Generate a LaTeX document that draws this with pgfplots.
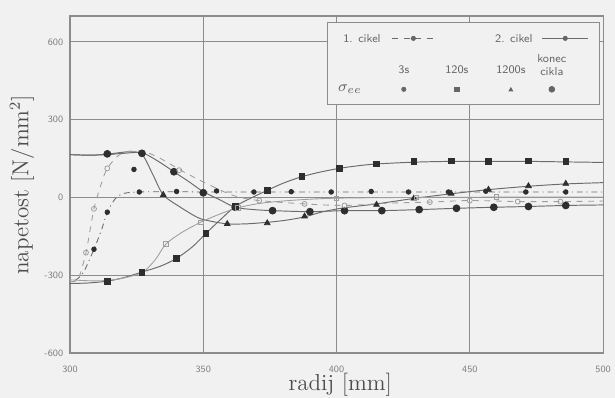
\documentclass[border=0pt]{standalone}
\usepackage{pgfplots}
\pgfplotsset{compat=1.18}
\usetikzlibrary{backgrounds}
\definecolor{bg}{gray}{0.945}
\definecolor{gridc}{gray}{0.55}
\definecolor{linec}{gray}{0.42}
\definecolor{lightc}{gray}{0.62}
\definecolor{markc}{gray}{0.18}
\begin{document}
\begin{tikzpicture}
\begin{axis}[
  scale only axis, width=277.3pt, height=175.3pt,
  xmin=300, xmax=500, ymin=-600, ymax=700,
  xtick={300,350,400,450,500}, ytick={-600,-300,0,300,600},
  grid=major, grid style={gridc, line width=0.45pt},
  axis line style={gridc, line width=0.6pt},
  tick style={draw=none},
  ticklabel style={font=\sffamily\fontsize{5}{6}\selectfont, text=gray},
  xticklabel style={yshift=-3pt},
  /pgf/number format/assume math mode=true,
  xlabel={radij [mm]}, ylabel={napetost [N/mm$^2$]},
  label style={font=\large, text=black!70},
  xlabel style={at={(axis description cs:0.507,-0.095)}, anchor=center},
  ylabel style={at={(axis description cs:-0.090,0.499)}, anchor=center},
]
% A: 120s squares
\addplot[linec, line width=0.5pt, smooth, no markers] coordinates {
(300,-332)(307,-330)(314,-323)(320,-310)(327,-288)(334,-265)(340,-235)(346,-190)(351,-139)(356,-90)(362,-35)(368,-2)(374,27)(380,55)(387,80)(394,98)(401,112)(408,122)(415,129)(429,136)(443,139)(457,139)(472,139)(486,137)(500,135)};
\addplot[only marks, mark=square*, mark size=1.5pt, markc] coordinates {
(314,-323)(327,-288)(340,-235)(351,-139)(362,-35)(374,27)(387,82)(401,112)(415,129)(429,138)(443,141)(457,138)(472,141)(486,138)};
% B: konec cikla big dots
\addplot[linec, line width=0.5pt, smooth, no markers] coordinates {
(300,165)(307,163)(314,165)(320,170)(327,172)(333,140)(339,99)(345,58)(350,22)(356,-8)(362,-38)(369,-47)(376,-51)(390,-55)(403,-51)(417,-51)(431,-47)(445,-42)(459,-38)(472,-35)(486,-31)(500,-29)};
\addplot[only marks, mark=*, mark size=1.8pt, markc] coordinates {
(314,168)(327,170)(339,99)(350,18)(362,-38)(376,-51)(390,-55)(403,-51)(417,-51)(431,-47)(445,-42)(459,-38)(472,-35)(486,-31)};
% C: 1200s triangles
\addplot[linec, line width=0.5pt, smooth, no markers] coordinates {
(300,165)(308,163)(315,168)(322,176)(327,166)(331,90)(335,10)(341,-35)(348,-78)(353,-92)(359,-102)(366,-102)(374,-96)(381,-88)(388,-75)(395,-55)(403,-40)(415,-25)(429,-4)(443,14)(457,30)(472,43)(486,52)(500,57)};
\addplot[only marks, mark=triangle*, mark size=1.7pt, markc] coordinates {
(335,10)(359,-102)(374,-99)(388,-73)(415,-28)(429,-4)(443,15)(457,30)(472,44)(486,53)};
% D: 3s small dots
\addplot[linec, line width=0.45pt, dash pattern=on 3pt off 2pt on 0.6pt off 2pt, smooth, no markers] coordinates {
(302,-320)(305,-290)(309,-200)(312,-120)(314,-57)(317,-5)(320,15)(326,21)(340,22)(350,21)(370,21)(400,21)(430,21)(460,21)(486,21)(500,21)};
\addplot[only marks, mark=*, mark size=1.2pt, markc] coordinates {
(309,-200)(314,-57)(324,108)(326,21)(340,23)(355,25)(369,21)(383,22)(398,21)(413,23)(427,21)(442,21)(456,24)(471,21)(486,21)};
% E: open circles, light dashed
\addplot[lightc, line width=0.45pt, dashed, smooth, no markers] coordinates {
(300,-322)(303,-316)(306,-213)(309,-44)(312,60)(314,112)(318,160)(322,178)(328,176)(334,150)(341,108)(348,70)(355,35)(362,5)(371,-12)(388,-25)(403,-31)(420,-22)(435,-18)(450,-12)(468,-16)(484,-16)(500,-14)};
\addplot[only marks, mark=o, mark size=1.3pt, lightc] coordinates {
(306,-213)(309,-44)(314,112)(341,105)(371,-12)(388,-25)(403,-31)(435,-18)(450,-12)(468,-16)(484,-16)};
% F: open squares, light solid
\addplot[lightc, line width=0.45pt, smooth, no markers] coordinates {
(300,-318)(310,-322)(318,-315)(327,-290)(332,-240)(336,-180)(342,-135)(349,-96)(356,-65)(363,-40)(372,-22)(385,-10)(400,-3)(430,0)(460,1)(500,1)};
\addplot[only marks, mark=square, mark size=1.2pt, lightc] coordinates {
(336,-180)(349,-96)(363,-40)(400,-3)(430,0)(460,1)};
% legend box
\node[draw=gridc, fill=bg, line width=0.5pt, anchor=north east, minimum width=141.5pt, minimum height=42.7pt, inner sep=0pt] (L) at (rel axis cs:0.994,0.982) {};
\end{axis}
\begin{scope}[font=\sffamily\fontsize{6}{7}\selectfont, text=black!60]
\node[anchor=west] at ([shift={(5pt,-8.5pt)}]L.north west) {1. cikel};
\draw[linec, dashed, line width=0.45pt] ([shift={(34pt,-8.5pt)}]L.north west) -- ++(22pt,0);
\node[inner sep=0pt] at ([shift={(45pt,-8.5pt)}]L.north west) {\tikz[mark size=1.1pt]\pgfuseplotmark{*};};
\node[anchor=west] at ([shift={(84pt,-8.5pt)}]L.north west) {2. cikel};
\draw[linec, line width=0.45pt] ([shift={(112pt,-8.5pt)}]L.north west) -- ++(24pt,0);
\node[inner sep=0pt] at ([shift={(124pt,-8.5pt)}]L.north west) {\tikz[mark size=1.1pt]\pgfuseplotmark{*};};
\node at ([shift={(40pt,-25pt)}]L.north west) {3s};
\node at ([shift={(67.6pt,-25pt)}]L.north west) {120s};
\node at ([shift={(95.7pt,-25pt)}]L.north west) {1200s};
\node[align=center, font=\sffamily\fontsize{6}{6.8}\selectfont] at ([shift={(117pt,-22.5pt)}]L.north west) {konec\\cikla};
\node at ([shift={(12pt,-35pt)}]L.north west) {\rmfamily\fontsize{8}{9}\selectfont$\sigma_{ee}$};
\node[inner sep=0pt] at ([shift={(40pt,-35pt)}]L.north west) {\tikz[mark size=1.1pt]\pgfuseplotmark{*};};
\node[inner sep=0pt] at ([shift={(67.6pt,-35pt)}]L.north west) {\tikz[mark size=1.2pt]\pgfuseplotmark{square*};};
\node[inner sep=0pt] at ([shift={(95.7pt,-35pt)}]L.north west) {\tikz[mark size=1.1pt]\pgfuseplotmark{triangle*};};
\node[inner sep=0pt] at ([shift={(117pt,-35pt)}]L.north west) {\tikz[mark size=1.5pt]\pgfuseplotmark{*};};
\end{scope}
\pgfresetboundingbox
\path[use as bounding box] ([shift={(-36.4pt,-23.4pt)}]current axis.south west) rectangle ([shift={(6.2pt,8.3pt)}]current axis.north east);
\begin{scope}[on background layer]
\fill[bg] ([shift={(-36.4pt,-23.4pt)}]current axis.south west) rectangle ([shift={(6.2pt,8.3pt)}]current axis.north east);
\end{scope}
\end{tikzpicture}
\end{document}
